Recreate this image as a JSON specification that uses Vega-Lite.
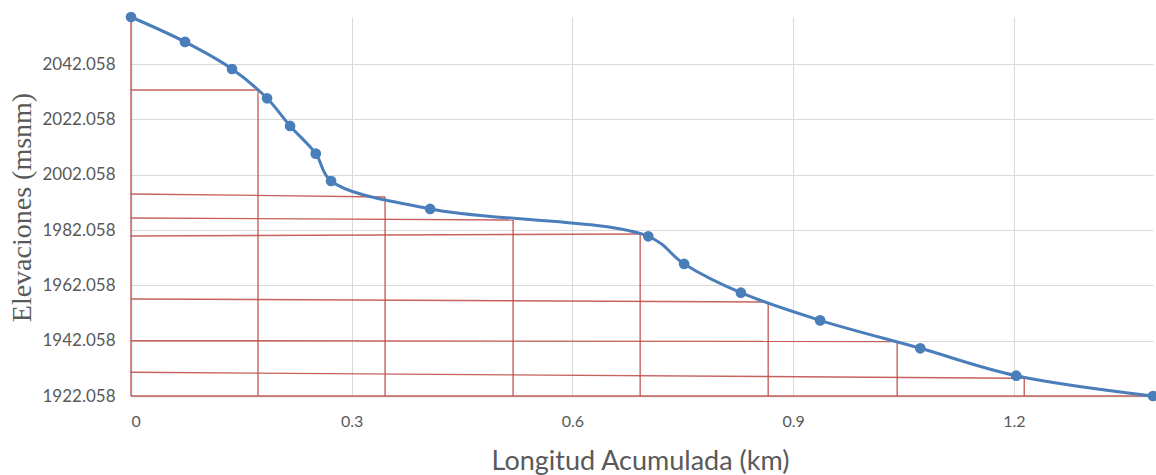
{
  "$schema": "https://vega.github.io/schema/vega-lite/v6.json",
  "autosize": {"type": "none"},
  "width": 1022,
  "height": 379,
  "padding": {"left": 131, "top": 17, "right": 3, "bottom": 79},
  "background": "white",
  "config": {
    "view": {"stroke": null},
    "axis": {
      "labelFont": "Lato",
      "labelColor": "#595959",
      "titleColor": "#595959",
      "titleFontWeight": "normal",
      "gridColor": "#d9d9d9",
      "gridWidth": 1,
      "domainColor": "#d0d0d0",
      "domainWidth": 1.5,
      "ticks": false
    }
  },
  "datasets": {
    "profile": [
      {"x": 0, "y": 2059.1},
      {"x": 0.0734, "y": 2050.1},
      {"x": 0.1373, "y": 2040.3},
      {"x": 0.1849, "y": 2029.7},
      {"x": 0.2162, "y": 2019.7},
      {"x": 0.2511, "y": 2009.7},
      {"x": 0.2719, "y": 1999.8},
      {"x": 0.4065, "y": 1989.7},
      {"x": 0.703, "y": 1979.8},
      {"x": 0.7518, "y": 1969.8},
      {"x": 0.8289, "y": 1959.4},
      {"x": 0.9366, "y": 1949.4},
      {"x": 1.0727, "y": 1939.3},
      {"x": 1.2031, "y": 1929.4},
      {"x": 1.389, "y": 1922.058}
    ],
    "segments": [
      {"x": 0, "y": 2032.73, "x2": 0.1726, "y2": 2032.73},
      {"x": 0, "y": 1995.12, "x2": 0.3453, "y2": 1994.03},
      {"x": 0, "y": 1986.44, "x2": 0.5193, "y2": 1985.71},
      {"x": 0, "y": 1979.92, "x2": 0.692, "y2": 1980.65},
      {"x": 0, "y": 1957.14, "x2": 0.866, "y2": 1956.06},
      {"x": 0, "y": 1942.06, "x2": 1.0413, "y2": 1941.77},
      {"x": 0, "y": 1930.63, "x2": 1.214, "y2": 1928.46},
      {"x": 0, "y": 1922.058, "x2": 1.389, "y2": 1922.058},
      {"x": 0, "y": 1922.058, "x2": 0, "y2": 2059.1},
      {"x": 0.1726, "y": 1922.058, "x2": 0.1726, "y2": 2032.73},
      {"x": 0.3453, "y": 1922.058, "x2": 0.3453, "y2": 1994.03},
      {"x": 0.5193, "y": 1922.058, "x2": 0.5193, "y2": 1985.71},
      {"x": 0.692, "y": 1922.058, "x2": 0.692, "y2": 1980.65},
      {"x": 0.866, "y": 1922.058, "x2": 0.866, "y2": 1956.06},
      {"x": 1.0413, "y": 1922.058, "x2": 1.0413, "y2": 1941.77},
      {"x": 1.214, "y": 1922.058, "x2": 1.214, "y2": 1928.46}
    ]
  },
  "layer": [
    {
      "data": {"name": "segments"},
      "mark": {"type": "rule", "color": "#c0504d", "strokeWidth": 1.4, "opacity": 0.9},
      "encoding": {
        "x": {
          "field": "x", "type": "quantitative",
          "scale": {"domain": [0, 1.389], "nice": false, "zero": false},
          "axis": {
            "values": [0, 0.3, 0.6, 0.9, 1.2],
            "format": "~g",
            "labelFontSize": 16,
            "labelPadding": 17,
            "title": "Longitud Acumulada (km)",
            "titleFont": "Lato",
            "titleFontSize": 27,
            "titleBaseline": "middle",
            "titleX": 509,
            "titleY": 65
          }
        },
        "y": {
          "field": "y", "type": "quantitative",
          "scale": {"domain": [1922.058, 2059.1], "nice": false, "zero": false},
          "axis": {
            "values": [1922.058, 1942.058, 1962.058, 1982.058, 2002.058, 2022.058, 2042.058],
            "format": ".3f",
            "labelFontSize": 17,
            "labelPadding": 16,
            "title": "Elevaciones (msnm)",
            "titleFont": "Liberation Serif",
            "titleFontSize": 28,
            "titleBaseline": "middle",
            "titleX": -109,
            "titleY": 190
          }
        },
        "x2": {"field": "x2"},
        "y2": {"field": "y2"}
      }
    },
    {
      "data": {"name": "profile"},
      "mark": {"type": "line", "color": "#4a7ebb", "strokeWidth": 3, "interpolate": "catmull-rom"},
      "encoding": {
        "x": {"field": "x", "type": "quantitative"},
        "y": {"field": "y", "type": "quantitative"}
      }
    },
    {
      "data": {"name": "profile"},
      "mark": {"type": "point", "filled": true, "color": "#4a7ebb", "size": 115, "opacity": 1},
      "encoding": {
        "x": {"field": "x", "type": "quantitative"},
        "y": {"field": "y", "type": "quantitative"}
      }
    }
  ]
}
